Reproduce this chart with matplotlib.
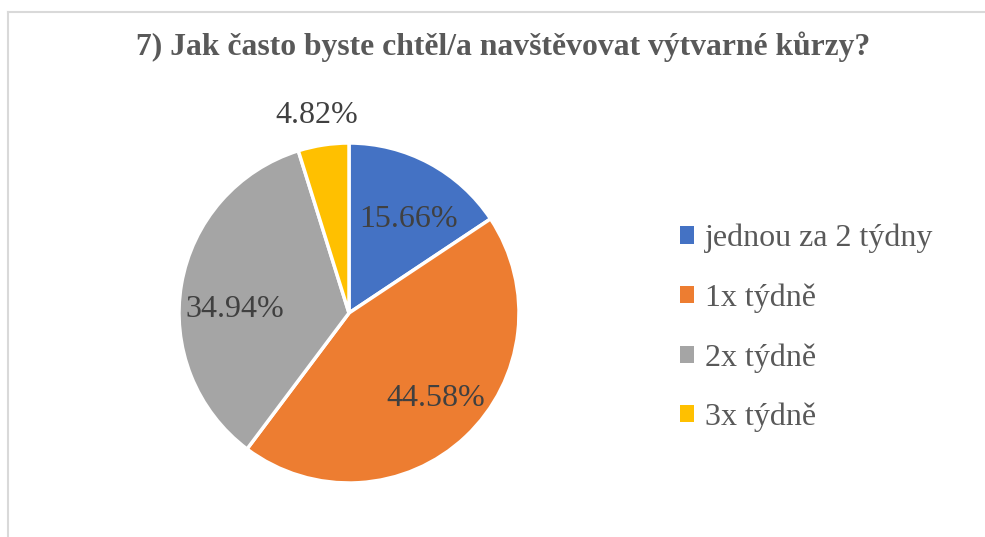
import matplotlib
matplotlib.use("Agg")
import matplotlib.pyplot as plt
import matplotlib.transforms as mtransforms
from matplotlib.lines import Line2D
from matplotlib.patches import Rectangle

title = "7) Jak často byste chtěl/a navštěvovat výtvarné kůrzy?"
categories = ["jednou za 2 týdny", "1x týdně", "2x týdně", "3x týdně"]
values = [15.66, 44.58, 34.94, 4.82]
colors = ["#4472C4", "#ED7D31", "#A5A5A5", "#FFC000"]

# label layout tweaks (pixels, x right / y down) and radial distances
label_shift_px = [(5, 8), (7, 1), (0, 16), (-2, 2)]
label_dist = [0.68, 0.68, 0.68, 1.19]

plt.rcParams['font.family'] = ['Liberation Serif', 'DejaVu Serif']

W, H = 985, 537
fig = plt.figure(figsize=(W / 100, H / 100), dpi=100)

# border (top and left visible)
fig.add_artist(Line2D([8 / W, 8 / W], [0, 1 - 12 / H], color="#D9D9D9", lw=1.5))
fig.add_artist(Line2D([8 / W, 1], [1 - 12 / H, 1 - 12 / H], color="#D9D9D9", lw=1.5))

cx, cy, r = 349, 313, 170
ax = fig.add_axes([(cx - r) / W, (H - cy - r) / H, 2 * r / W, 2 * r / H])
wedges, texts, autotexts = ax.pie(
    values, colors=colors, startangle=90, counterclock=False,
    autopct=lambda p: f"{p:.2f}%", pctdistance=0.68,
    wedgeprops=dict(edgecolor="white", linewidth=2.5),
    textprops=dict(color="#404040", fontsize=23))
for t, d, (sx, sy) in zip(autotexts, label_dist, label_shift_px):
    x, y = t.get_position()
    t.set_position((x * d / 0.68, y * d / 0.68))
    t.set_transform(ax.transData + mtransforms.ScaledTranslation(
        sx / 100, -sy / 100, fig.dpi_scale_trans))
ax.set_xlim(-1, 1)
ax.set_ylim(-1, 1)
ax.set_aspect("equal")
ax.axis("off")

fig.text(503 / W, 1 - 47 / H, title, ha="center", va="center",
         fontsize=22.8, fontweight="bold", color="#595959")

handles = [Rectangle((0, 0), 1, 1, facecolor=c, edgecolor="none") for c in colors]
leg = fig.legend(handles, categories, loc="center left",
                 bbox_to_anchor=(680 / W, 1 - 328 / H), frameon=False,
                 fontsize=23, handlelength=0.45, handleheight=0.45,
                 handletextpad=0.32, labelspacing=0.94,
                 borderaxespad=0, borderpad=0)
for t in leg.get_texts():
    t.set_color("#595959")

fig.savefig("out.png", dpi=100, facecolor="white")
